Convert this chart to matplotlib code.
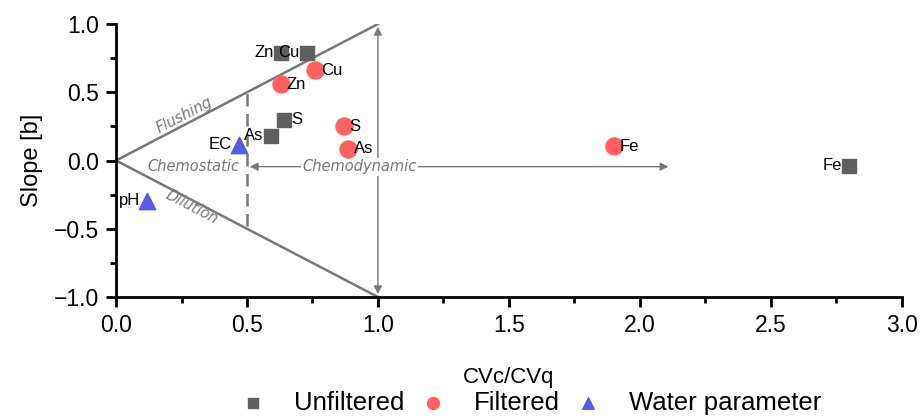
import matplotlib.pyplot as plt
from matplotlib.ticker import MultipleLocator

plt.rcParams['font.family'] = ['Liberation Sans', 'DejaVu Sans']

# unfiltered (squares)
unf_names = ['Zn', 'Cu', 'S', 'As', 'Fe']
unf_x = [0.63, 0.73, 0.64, 0.59, 2.80]
unf_y = [0.79, 0.79, 0.30, 0.18, -0.04]
unf_side = ['left', 'left', 'right', 'left', 'left']

# filtered (circles)
fil_names = ['Zn', 'Cu', 'S', 'As', 'Fe']
fil_x = [0.63, 0.76, 0.87, 0.885, 1.90]
fil_y = [0.56, 0.66, 0.25, 0.085, 0.106]

# water parameters (triangles)
wat_names = ['EC', 'pH']
wat_x = [0.47, 0.12]
wat_y = [0.11, -0.30]

gray = '#777777'
fig = plt.figure(figsize=(9.21, 4.18), dpi=100)
ax = fig.add_axes([0.126, 0.2895, 0.853, 0.653])

# boundary lines
ax.plot([0, 1], [0, 1], color=gray, lw=1.8, zorder=1)
ax.plot([0, 1], [0, -1], color=gray, lw=1.8, zorder=1)
ax.plot([0.5, 0.5], [-0.48, 0.5], color=gray, lw=1.8, ls=(0, (5, 3)), zorder=1)
ax.annotate('', xy=(1, 1), xytext=(1, -1),
            arrowprops=dict(arrowstyle='<|-|>', color=gray, lw=1.0, mutation_scale=12))
ax.annotate('', xy=(0.5, -0.045), xytext=(2.12, -0.045),
            arrowprops=dict(arrowstyle='<|-|>', color=gray, lw=1.0, mutation_scale=12))

txt = dict(color=gray, style='italic', fontsize=10.5, family=['DejaVu Sans'])
ax.text(0.93, -0.045, 'Chemodynamic', ha='center', va='center',
        bbox=dict(facecolor='white', edgecolor='none', pad=1), **txt)
ax.text(0.295, -0.045, 'Chemostatic', ha='center', va='center', **txt)
ax.text(0.26, 0.33, 'Flushing', ha='center', va='center', rotation=27.5, **txt)
ax.text(0.29, -0.34, 'Dilution', ha='center', va='center', rotation=-27.5, **txt)

ax.scatter(unf_x, unf_y, marker='s', s=110, color='#5f5f5f', label='Unfiltered', zorder=3)
ax.scatter(fil_x, fil_y, marker='o', s=150, color='#ff6161', label='Filtered', zorder=3)
ax.scatter(wat_x, wat_y, marker='^', s=140, color='#5a5ae8', label='Water parameter', zorder=3)

for n, x, y, side in zip(unf_names, unf_x, unf_y, unf_side):
    if side == 'left':
        ax.text(x - 0.028, y, n, ha='right', va='center', fontsize=12, zorder=4)
    else:
        ax.text(x + 0.028, y, n, ha='left', va='center', fontsize=12, zorder=4)
for n, x, y in zip(fil_names, fil_x, fil_y):
    ax.text(x + 0.022, y, n, ha='left', va='center', fontsize=12, zorder=4)
for n, x, y in zip(wat_names, wat_x, wat_y):
    ax.text(x - 0.028, y + 0.01, n, ha='right', va='center', fontsize=12, zorder=4)

ax.set_xlim(0, 3.0)
ax.set_ylim(-1.0, 1.0)
ax.xaxis.set_minor_locator(MultipleLocator(0.25))
ax.yaxis.set_minor_locator(MultipleLocator(0.25))
ax.set_xticks([0, 0.5, 1.0, 1.5, 2.0, 2.5, 3.0])
ax.set_xticklabels(['0.0', '0.5', '1.0', '1.5', '2.0', '2.5', '3.0'])
ax.set_yticks([-1.0, -0.5, 0.0, 0.5, 1.0])
ax.set_yticklabels(['\u22121.0', '\u22120.5', '0.0', '0.5', '1.0'])
ax.tick_params(which='major', length=7, width=2, labelsize=16.5, direction='out', pad=5)
ax.tick_params(which='minor', length=4, width=2, direction='out')
for s in ['top', 'right']:
    ax.spines[s].set_visible(False)
for s in ['left', 'bottom']:
    ax.spines[s].set_linewidth(2)
ax.set_xlabel('CVc/CVq', fontsize=16, labelpad=22)
ax.set_ylabel('Slope [b]', fontsize=17, labelpad=8)

fig.legend(loc='center', bbox_to_anchor=(0.572, 0.036), ncol=3, frameon=False,
           fontsize=18.5, handletextpad=0.8, columnspacing=0.3, handlelength=1.6,
           markerscale=0.7, borderpad=0)

fig.savefig('out.png', dpi=100)
